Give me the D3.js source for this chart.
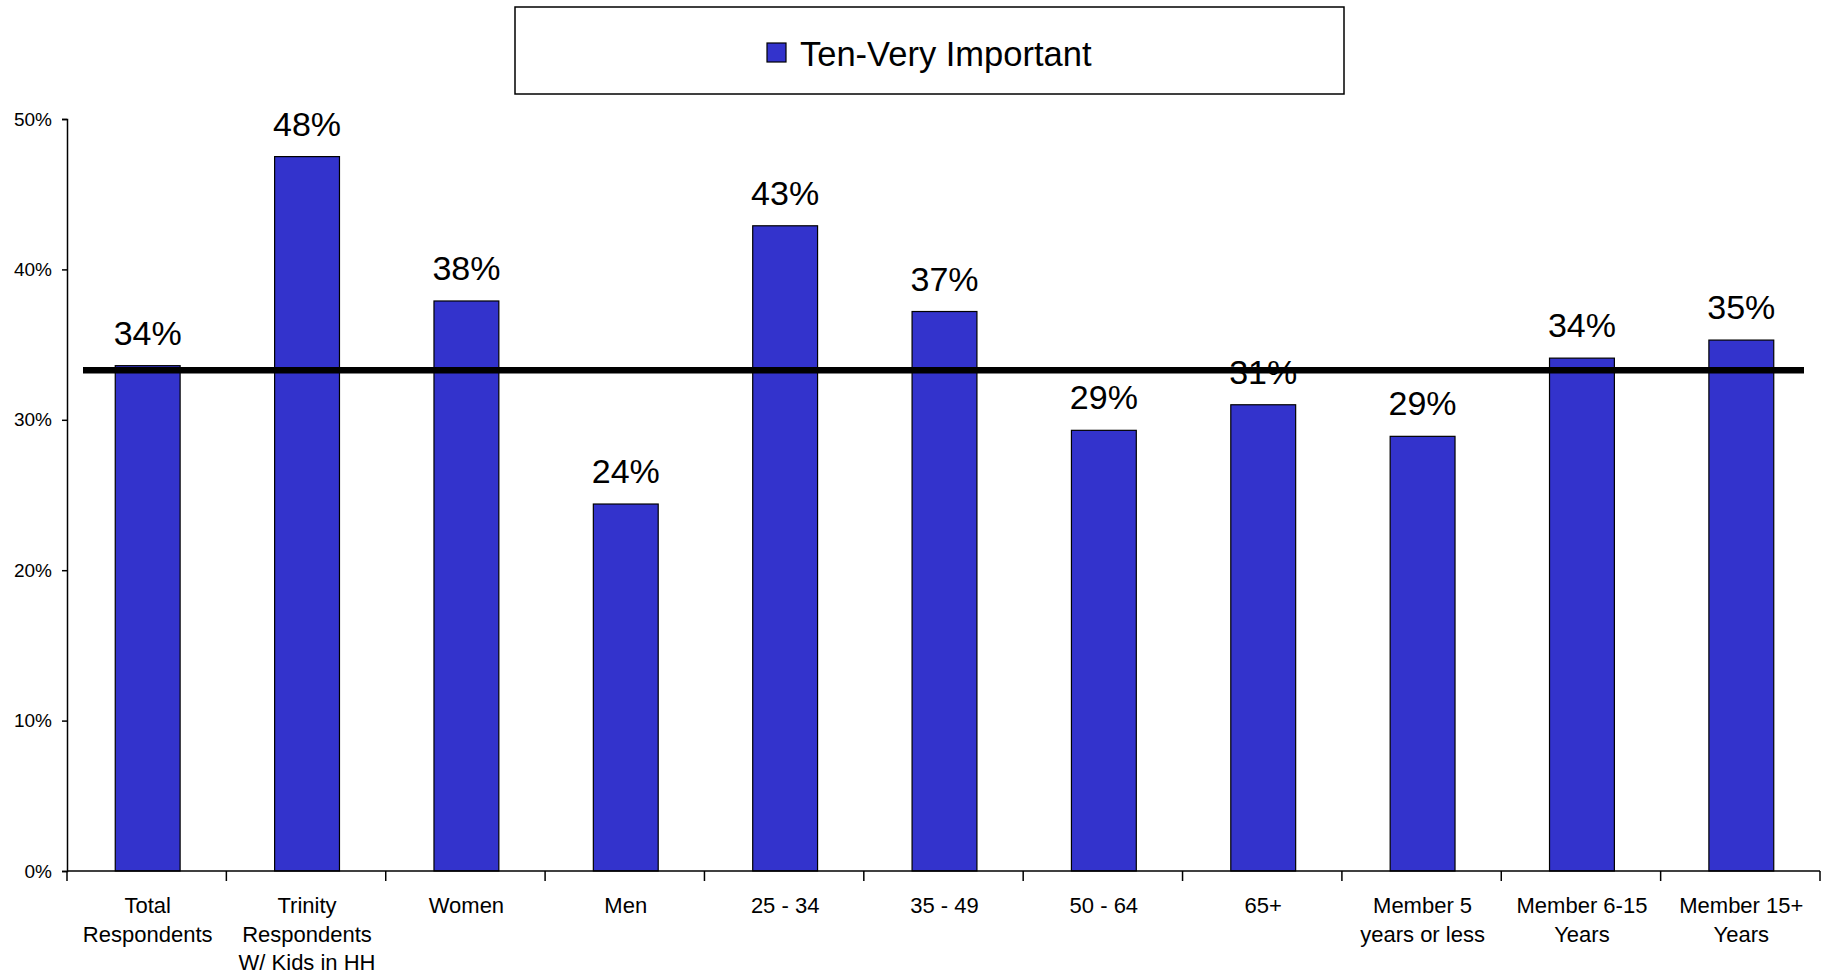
<!DOCTYPE html>
<html>
<head>
<meta charset="utf-8">
<script src="https://cdn.jsdelivr.net/npm/d3@7"></script>
<style>
  html, body { margin: 0; padding: 0; background: #fff; }
  svg { display: block; font-family: "Liberation Sans", Arial, sans-serif; }
</style>
</head>
<body>
<svg id="chart" width="1826" height="976"></svg>
<script>
// ---- data ----
const categories = [
  ["Total", "Respondents"],
  ["Trinity", "Respondents", "W/ Kids in HH"],
  ["Women"],
  ["Men"],
  ["25 - 34"],
  ["35 - 49"],
  ["50 - 64"],
  ["65+"],
  ["Member 5", "years or less"],
  ["Member 6-15", "Years"],
  ["Member 15+", "Years"]
];
const values = [33.6, 47.5, 37.9, 24.4, 42.9, 37.2, 29.3, 31.0, 28.9, 34.1, 35.3];
const valueLabels = ["34%", "48%", "38%", "24%", "43%", "37%", "29%", "31%", "29%", "34%", "35%"];
const yTicks = [0, 10, 20, 30, 40, 50];
const seriesName = "Ten-Very Important";
const referenceValue = 33.3;

// ---- layout ----
(function () {
const svg = d3.select("#chart");
const pLeft = 67, pRight = 1820, pTop = 119, pBottom = 871;
const barColor = "#3333CC";

const x = d3.scaleBand()
  .domain(d3.range(categories.length))
  .range([pLeft, pRight])
  .paddingInner(0).paddingOuter(0);
const y = d3.scaleLinear().domain([0, 50]).range([pBottom, pTop]);
const barW = x.step() * 0.407;

// Bars
svg.append("g").selectAll("rect")
  .data(values)
  .join("rect")
  .attr("x", (d, i) => x(i) + x.bandwidth() / 2 - barW / 2 + 1)
  .attr("y", d => y(d))
  .attr("width", barW)
  .attr("height", d => y(0) - y(d))
  .attr("fill", barColor)
  .attr("stroke", "#000")
  .attr("stroke-width", 1.2);

// Value labels
svg.append("g").selectAll("text")
  .data(values)
  .join("text")
  .attr("x", (d, i) => x(i) + x.bandwidth() / 2 + 1)
  .attr("y", d => y(d) - 21)
  .attr("text-anchor", "middle")
  .attr("font-size", 34)
  .attr("fill", "#000")
  .text((d, i) => valueLabels[i]);

// Y axis
const yAxis = d3.axisLeft(y)
  .tickValues(yTicks)
  .tickSize(5)
  .tickPadding(10)
  .tickFormat(d => d + "%");
const gy = svg.append("g").attr("transform", `translate(${pLeft},0)`).call(yAxis);
gy.select(".domain").attr("stroke", "#000").attr("stroke-width", 1.5);
gy.selectAll(".tick line").attr("stroke", "#000").attr("stroke-width", 1.5);
gy.selectAll(".tick text").attr("font-size", 19).attr("font-family", "Liberation Sans, Arial, sans-serif").attr("fill", "#000");

// X axis line & ticks
svg.append("line")
  .attr("x1", pLeft).attr("x2", pRight)
  .attr("y1", pBottom).attr("y2", pBottom)
  .attr("stroke", "#000").attr("stroke-width", 1.5);
const tickPositions = d3.range(categories.length + 1).map(i => i < categories.length ? x(i) : x(categories.length - 1) + x.step());
svg.append("g").selectAll("line")
  .data(tickPositions)
  .join("line")
  .attr("x1", d => d).attr("x2", d => d)
  .attr("y1", pBottom).attr("y2", pBottom + 10)
  .attr("stroke", "#000").attr("stroke-width", 1.5);

// X labels
const xl = svg.append("g").selectAll("text")
  .data(categories)
  .join("text")
  .attr("text-anchor", "middle")
  .attr("font-size", 22)
  .attr("fill", "#000");
xl.each(function(lines, i) {
  const t = d3.select(this);
  lines.forEach((ln, k) => {
    t.append("tspan")
      .attr("x", x(i) + x.bandwidth() / 2 + 1)
      .attr("y", 913 + k * 28.5)
      .text(ln);
  });
});

// Reference line
svg.append("line")
  .attr("x1", pLeft + 16).attr("x2", pRight - 16)
  .attr("y1", y(referenceValue)).attr("y2", y(referenceValue))
  .attr("stroke", "#000").attr("stroke-width", 6.5);

// Legend
const lg = svg.append("g");
lg.append("rect")
  .attr("x", 515).attr("y", 7).attr("width", 829).attr("height", 87)
  .attr("fill", "#fff").attr("stroke", "#000").attr("stroke-width", 1.5);
lg.append("rect")
  .attr("x", 767).attr("y", 43).attr("width", 19).attr("height", 19)
  .attr("fill", barColor).attr("stroke", "#000").attr("stroke-width", 1.2);
lg.append("text")
  .attr("x", 800).attr("y", 66)
  .attr("font-size", 34.5)
  .attr("fill", "#000")
  .text(seriesName);
})();
</script>
</body>
</html>
